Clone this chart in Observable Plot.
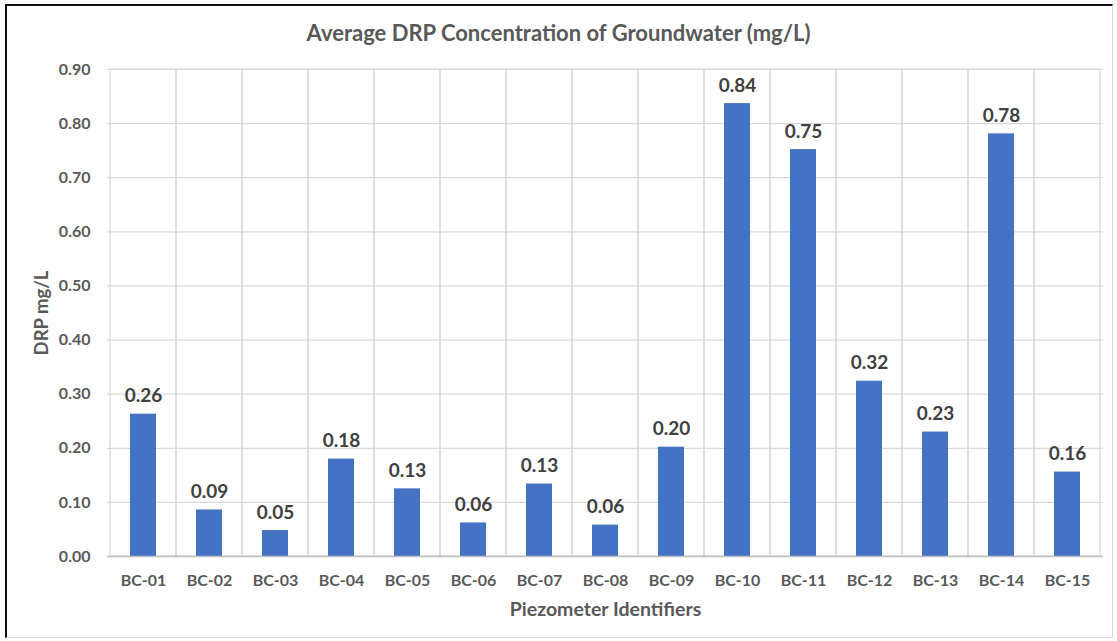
<!DOCTYPE html>
<html>
<head>
<meta charset="utf-8">
<script src="https://cdn.jsdelivr.net/npm/d3@7"></script>
<script src="https://cdn.jsdelivr.net/npm/@observablehq/plot@0.6"></script>
<style>
  html, body { margin: 0; padding: 0; background: #fff; }
  #wrap { position: relative; width: 1117px; height: 641px; overflow: hidden; font-family: Lato, "Open Sans", sans-serif; }
  #frame { position: absolute; left: 5px; top: 4px; width: 1108px; height: 634px; border-left: 2px solid #111; border-top: 2px solid #111; border-right: 1px solid #d9d9d9; border-bottom: 1px solid #d9d9d9; box-sizing: border-box; pointer-events: none; }
  #title { position: absolute; left: 0; width: 1117px; top: 20px; text-align: center; font-size: 22px; line-height: 26px; font-weight: 700; color: #595959; }
  #chart { position: absolute; left: 0; top: 0; }
</style>
</head>
<body>
<div id="wrap">
  <div id="chart"></div>
  <div id="title">Average DRP Concentration of Groundwater (mg/L)</div>
  <div id="frame"></div>
</div>
<script>
const categories = ["BC-01","BC-02","BC-03","BC-04","BC-05","BC-06","BC-07","BC-08","BC-09","BC-10","BC-11","BC-12","BC-13","BC-14","BC-15"];
const values = [0.263, 0.086, 0.048, 0.180, 0.125, 0.062, 0.134, 0.058, 0.202, 0.837, 0.752, 0.324, 0.230, 0.781, 0.156];
const yTicks = [0, 0.1, 0.2, 0.3, 0.4, 0.5, 0.6, 0.7, 0.8, 0.9];
const xLabel = "Piezometer Identifiers";
const yLabel = "DRP mg/L";

const data = categories.map((c, i) => ({cat: c, val: values[i]}));

const chart = Plot.plot({
  width: 1117,
  height: 641,
  marginLeft: 107,
  marginRight: 14,
  marginTop: 69,
  marginBottom: 85,
  style: {fontFamily: "Lato, 'Open Sans', sans-serif", background: "transparent"},
  x: {domain: categories, padding: 0, label: null},
  y: {domain: [0, 0.9], label: null},
  marks: [
    Plot.ruleY(yTicks.slice(1), {stroke: "#d9d9d9", strokeWidth: 1.2}),
    Plot.cell(categories, {x: d => d, fill: "none", stroke: "#d9d9d9", strokeWidth: 1.2}),
    Plot.barY(data, {x: "cat", y: "val", fill: "#4472C4", insetLeft: 20, insetRight: 20}),
    Plot.ruleY([0], {stroke: "#bfbfbf", strokeWidth: 1.5}),
    Plot.text(data, {x: "cat", y: "val", text: d => d3.format(".2f")(d.val), dy: -18, fontSize: 19, fontWeight: 700, fill: "#404040"}),
    Plot.axisY({ticks: yTicks, tickFormat: d3.format(".2f"), tickSize: 0, tickPadding: 17, fontSize: 16, fontWeight: 700, fill: "#595959", label: null}),
    Plot.axisX({tickSize: 0, tickPadding: 18, fontSize: 16, fontWeight: 700, fill: "#595959", label: null}),
    Plot.text([xLabel], {frameAnchor: "bottom", lineAnchor: "middle", textAnchor: "middle", dy: 53, text: d => d, fontSize: 19.5, fontWeight: 700, fill: "#595959"}),
    Plot.text([yLabel], {frameAnchor: "left", lineAnchor: "middle", textAnchor: "middle", dx: -65, rotate: -90, text: d => d, fontSize: 18.5, fontWeight: 700, fill: "#595959"})
  ]
});
document.getElementById("chart").appendChild(chart);
</script>
</body>
</html>
